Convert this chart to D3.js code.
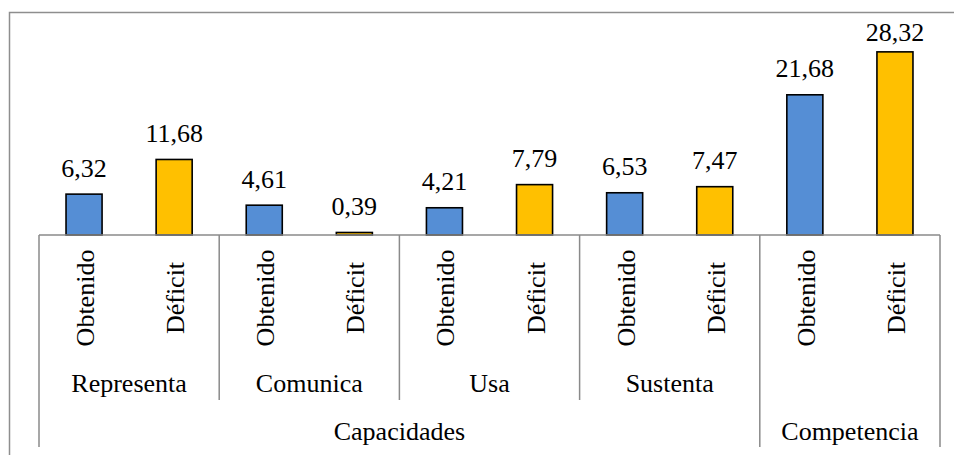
<!DOCTYPE html>
<html>
<head>
<meta charset="utf-8">
<script src="https://cdn.jsdelivr.net/npm/d3@7"></script>
<style>
  @font-face { font-family: "ChartSerif"; src: local("Liberation Serif"), local("LiberationSerif"), local("Tinos"), local("Times New Roman"); }
  body { margin: 0; background: #fff; }
</style>
</head>
<body>
<script>
// data
var groups = ["Representa", "Comunica", "Usa", "Sustenta", "Competencia"];
var groupLabels = ["Representa", "Comunica", "Usa", "Sustenta", ""];
var seriesNames = ["Obtenido", "Déficit"];
var obtenido = [6.32, 4.61, 4.21, 6.53, 21.68];
var deficit = [11.68, 0.39, 7.79, 7.47, 28.32];
var topLabels = ["Capacidades", "Competencia"];
var topSpans = [4, 1];
var colors = ["#558ed5", "#ffc000"];

var width = 954, height = 455;
var margin = { top: 41, left: 39, right: 14 };
var baseY = 235;
var fontList = "'Liberation Serif', Tinos, 'Times New Roman', Times, ChartSerif, serif";

var rows = [];
groups.forEach(function(g, i) {
	rows.push({ key: g + "|0", group: i, s: 0, value: obtenido[i] });
	rows.push({ key: g + "|1", group: i, s: 1, value: deficit[i] });
});

var svg = d3.select("body").append("svg")
		.attr("width", width)
		.attr("height", height)
		.attr("font-family", "Liberation Serif");

// outer chart border
svg.append("rect")
	.attr("x", 9.5).attr("y", 12.5)
	.attr("width", width + 10).attr("height", height + 10)
	.attr("fill", "none")
	.attr("stroke", "#8e8e8e")
	.attr("stroke-width", 1.5);

var x = d3.scaleBand()
		.domain(rows.map(function(d) { return d.key; }))
		.range([margin.left, width - margin.right])
		.paddingInner(0.6)
		.paddingOuter(0.3);

var y = d3.scaleLinear()
		.domain([0, 30])
		.range([baseY, margin.top]);

var step = x.step();
var groupX = function(i) { return margin.left + i * 2 * step; };

var locale = d3.formatLocale({ decimal: ",", thousands: ".", grouping: [3], currency: ["", ""] });
var fmt = locale.format(".2f");

function label(sel) {
	sel.attr("font-size", 26)
		.attr("font-family", "Liberation Serif")
		.style("font-family", fontList);
}

svg.selectAll("rect.bar")
	.data(rows)
	.enter()
	.append("rect")
	.attr("class", "bar")
	.attr("x", function(d) { return x(d.key); })
	.attr("y", function(d) { return y(d.value); })
	.attr("width", x.bandwidth())
	.attr("height", function(d) { return baseY - y(d.value); })
	.attr("fill", function(d) { return colors[d.s]; })
	.attr("stroke", "#000")
	.attr("stroke-width", 1.6);

svg.selectAll("text.val")
	.data(rows)
	.enter()
	.append("text")
	.attr("class", "val")
	.attr("x", function(d) { return x(d.key) + x.bandwidth() / 2; })
	.attr("y", function(d) { return Math.max(y(d.value) - 17.5, 41); })
	.attr("text-anchor", "middle")
	.call(label)
	.text(function(d) { return fmt(d.value); });

// axis line
var axisColor = "#8a8a8a";
svg.append("line")
	.attr("x1", margin.left).attr("x2", width - margin.right)
	.attr("y1", baseY).attr("y2", baseY)
	.attr("stroke", axisColor).attr("stroke-width", 1.5);

// category labels, rotated
svg.selectAll("text.cat")
	.data(rows)
	.enter()
	.append("text")
	.attr("class", "cat")
	.attr("transform", function(d) {
		return "translate(" + (x(d.key) + x.bandwidth() / 2 + 10) + "," + 298 + ") rotate(-90)";
	})
	.attr("text-anchor", "middle")
	.call(label)
	.text(function(d) { return seriesNames[d.s]; });

// group separators
var nGroups = groups.length;
var outer = [0];
var acc = 0;
topSpans.forEach(function(s) { acc += s; outer.push(acc); });
d3.range(nGroups + 1).forEach(function(i) {
	var isOuter = outer.indexOf(i) >= 0;
	svg.append("line")
		.attr("x1", groupX(i)).attr("x2", groupX(i))
		.attr("y1", baseY).attr("y2", isOuter ? 447 : 400)
		.attr("stroke", axisColor).attr("stroke-width", 1.5);
});

svg.selectAll("text.grp")
	.data(groupLabels)
	.enter()
	.append("text")
	.attr("class", "grp")
	.attr("x", function(d, i) { return groupX(i) + step; })
	.attr("y", 392)
	.attr("text-anchor", "middle")
	.call(label)
	.text(function(d) { return d; });

svg.selectAll("text.top")
	.data(topLabels)
	.enter()
	.append("text")
	.attr("class", "top")
	.attr("x", function(d, i) { return (groupX(outer[i]) + groupX(outer[i + 1])) / 2; })
	.attr("y", 440)
	.attr("text-anchor", "middle")
	.call(label)
	.text(function(d) { return d; });
</script>
</body>
</html>
